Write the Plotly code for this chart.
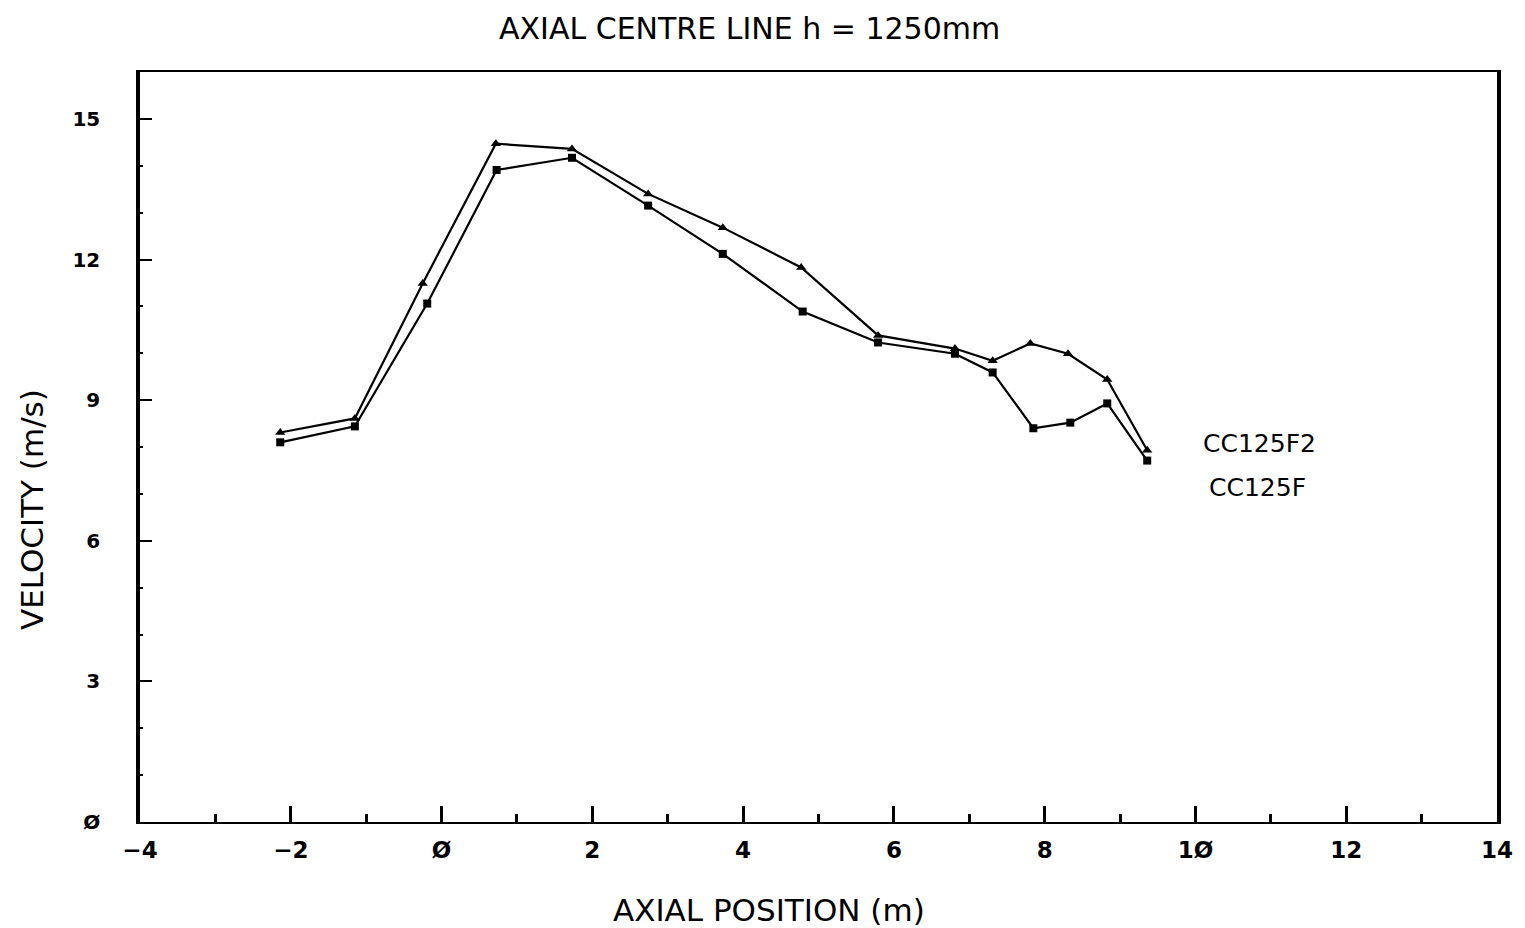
import plotly.graph_objects as go

# Data
x_f2 = [-2.14, -1.15, -0.25, 0.72, 1.73, 2.74, 3.73, 4.77, 5.79, 6.81, 7.31, 7.81, 8.31, 8.83, 9.36]
v_f2 = [8.31, 8.61, 11.49, 14.47, 14.36, 13.40, 12.68, 11.83, 10.38, 10.10, 9.84, 10.21, 9.99, 9.44, 7.93]

x_f = [-2.14, -1.15, -0.19, 0.73, 1.73, 2.74, 3.73, 4.79, 5.79, 6.81, 7.31, 7.85, 8.34, 8.83, 9.36]
v_f = [8.10, 8.44, 11.06, 13.91, 14.17, 13.15, 12.12, 10.89, 10.23, 9.99, 9.59, 8.40, 8.52, 8.93, 7.71]

x_tickvals = [-4, -2, 0, 2, 4, 6, 8, 10, 12, 14]
x_ticktext = ["\u22124", "\u22122", "\u00d8", "2", "4", "6", "8", "1\u00d8", "12", "14"]
y_tickvals = [0, 3, 6, 9, 12, 15]
y_ticktext = ["\u00d8", "3", "6", "9", "12", "15"]

series_names = ["CC125F2", "CC125F"]

FONT = "DejaVu Sans"

fig = go.Figure()
fig.add_trace(go.Scatter(
    x=x_f2, y=v_f2, mode="lines+markers", name=series_names[0],
    line=dict(color="black", width=2.2),
    marker=dict(symbol="triangle-up", size=9, color="black"),
))
fig.add_trace(go.Scatter(
    x=x_f, y=v_f, mode="lines+markers", name=series_names[1],
    line=dict(color="black", width=2.2),
    marker=dict(symbol="square", size=8, color="black"),
))

fig.update_layout(
    width=1525, height=928,
    margin=dict(l=140, r=28, t=72, b=106),
    paper_bgcolor="white", plot_bgcolor="white",
    showlegend=False,
    font=dict(family=FONT, color="black"),
)

fig.update_xaxes(
    range=[-4, 14], tickmode="array", tickvals=x_tickvals, ticktext=x_ticktext,
    showgrid=False, zeroline=False,
    showline=True, linecolor="black", linewidth=2.2, mirror=True,
    ticks="inside", ticklen=16, tickwidth=3, tickcolor="black",
    minor=dict(dtick=1, ticks="inside", ticklen=8, tickwidth=3, tickcolor="black"),
    tickfont=dict(family=FONT, size=23, color="black", weight="bold"),
    ticklabelstandoff=6,
)
fig.update_yaxes(
    range=[0, 16], tickmode="array", tickvals=y_tickvals, ticktext=y_ticktext,
    showgrid=False, zeroline=False,
    showline=True, linecolor="black", linewidth=3.5, mirror=True,
    ticks="inside", ticklen=12, tickwidth=2, tickcolor="black",
    minor=dict(dtick=1, ticks="inside", ticklen=3, tickwidth=2, tickcolor="black"),
    tickfont=dict(family=FONT, size=20, color="black", weight="bold"),
    ticklabelstandoff=32,
)

# Title and axis titles as annotations to match positions
fig.add_annotation(text="AXIAL CENTRE LINE h = 1250mm", xref="paper", yref="paper",
                   x=(749 - 140) / 1357, y=1 + (72 - 28) / 750, showarrow=False,
                   font=dict(family=FONT, size=30, color="black"),
                   xanchor="center", yanchor="middle")
fig.add_annotation(text="AXIAL POSITION (m)", xref="paper", yref="paper",
                   x=(769 - 140) / 1357, y=-(910 - 822) / 750, showarrow=False,
                   font=dict(family=FONT, size=31, color="black"),
                   xanchor="center", yanchor="middle")
fig.add_annotation(text="VELOCITY (m/s)", xref="paper", yref="paper",
                   x=-(140 - 32) / 1357, y=(822 - 510) / 750, showarrow=False,
                   textangle=-90,
                   font=dict(family=FONT, size=31, color="black"),
                   xanchor="center", yanchor="middle")

# Legend labels placed as text
fig.add_annotation(text=series_names[0], x=10.08, y=(822 - 443) / 46.93, xref="x", yref="y",
                   showarrow=False, xanchor="left", yanchor="middle",
                   font=dict(family=FONT, size=25, color="black"))
fig.add_annotation(text=series_names[1], x=10.15, y=(822 - 487) / 46.93, xref="x", yref="y",
                   showarrow=False, xanchor="left", yanchor="middle",
                   font=dict(family=FONT, size=25, color="black"))

fig.write_html("out.html")
